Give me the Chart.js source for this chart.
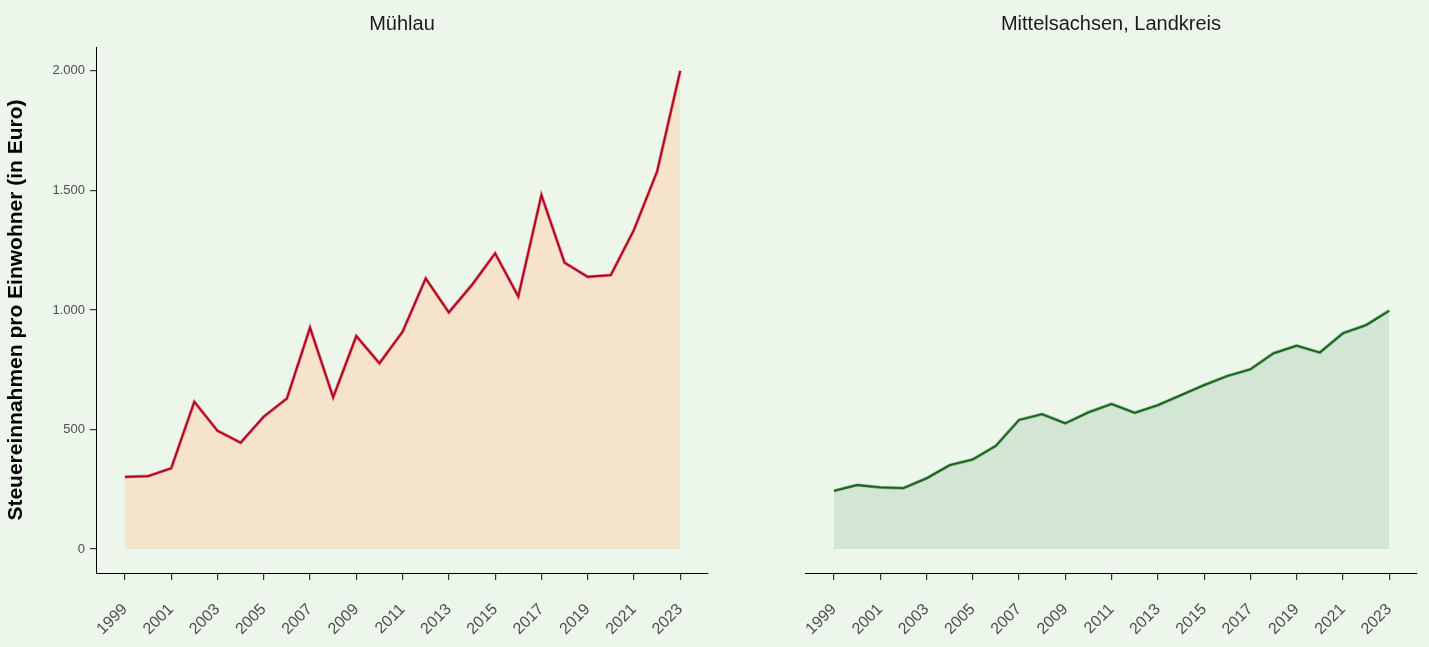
<!DOCTYPE html>
<html>
<head>
<meta charset="utf-8">
<script src="https://cdn.jsdelivr.net/npm/chart.js@4.4.1/dist/chart.umd.min.js"></script>
<style>
  body { margin: 0; background: #ecf6eb; }
  #wrap { position: relative; width: 1429px; height: 647px; }
  .panel { position: absolute; top: 0; height: 647px; }
</style>
</head>
<body>
<div id="wrap">
  <div class="panel" style="left:0;width:715px"><canvas id="left" width="715" height="647"></canvas></div>
  <div class="panel" style="left:715px;width:714px"><canvas id="right" width="714" height="647"></canvas></div>
</div>
<script>
// data
const years = [1999, 2000, 2001, 2002, 2003, 2004, 2005, 2006, 2007, 2008, 2009, 2010, 2011,
               2012, 2013, 2014, 2015, 2016, 2017, 2018, 2019, 2020, 2021, 2022, 2023];
const muehlau = [302, 305, 338, 616, 495, 445, 554, 630, 926, 635, 891, 777, 909,
                 1132, 990, 1105, 1237, 1057, 1481, 1198, 1139, 1146, 1335, 1579, 2000];
const mittelsachsen = [244, 268, 258, 255, 296, 351, 375, 432, 540, 564, 526, 572, 607,
                       570, 602, 644, 686, 724, 752, 819, 851, 822, 903, 937, 997];
const yearTicks = [1999, 2001, 2003, 2005, 2007, 2009, 2011, 2013, 2015, 2017, 2019, 2021, 2023];
const valueTicks = [0, 500, 1000, 1500, 2000];

const FONT = '"Liberation Sans", Arial, sans-serif';
Chart.defaults.font.family = FONT;

function dePoints(vals) {
  return years.map((y, i) => ({ x: y, y: vals[i] }));
}
function fmt(v) {
  return String(v).replace(/\B(?=(\d{3})+(?!\d))/g, '.');
}

const panelTitle = {
  id: 'panelTitle',
  afterDraw(chart, args, opts) {
    const ctx = chart.ctx;
    const a = chart.chartArea;
    ctx.save();
    ctx.font = '20px ' + FONT;
    ctx.fillStyle = '#1a1a1a';
    ctx.textAlign = 'center';
    ctx.textBaseline = 'middle';
    ctx.fillText(opts.text, (a.left + a.right) / 2, 24);
    ctx.restore();
  }
};

function xScale() {
  return {
    type: 'linear',
    min: 1997.75,
    max: 2024.2,
    afterBuildTicks: (s) => { s.ticks = yearTicks.map(v => ({ value: v })); },
    afterFit: (s) => { s.height = 74; },
    grid: { display: true, drawOnChartArea: false, drawTicks: true, tickLength: 7, color: '#333333', lineWidth: 1.2 },
    border: { display: true, color: '#000000', width: 1 },
    ticks: { autoSkip: false, minRotation: 45, maxRotation: 45, color: '#4d4d4d', font: { size: 16 }, padding: 20,
             callback: (v) => String(v) }
  };
}

function makeChart(id, vals, title, lineCol, haloCol, fillCol, showY, pad) {
  const yScale = {
    min: -100,
    max: 2100,
    display: showY,
    afterBuildTicks: (s) => { s.ticks = valueTicks.map(v => ({ value: v })); },
    grid: { display: true, drawOnChartArea: false, drawTicks: true, tickLength: 6, color: '#333333', lineWidth: 1.2 },
    border: { display: true, color: '#000000', width: 1 },
    ticks: { color: '#4d4d4d', font: { size: 13 }, padding: 5, callback: (v) => fmt(v) },
    title: { display: true, text: 'Steuereinnahmen pro Einwohner (in Euro)', color: '#000000',
             font: { size: 21, weight: 'bold' }, padding: { top: 4, bottom: 2 } }
  };
  if (showY) yScale.afterFit = (s) => { s.width = 96; };

  return new Chart(document.getElementById(id), {
    type: 'line',
    data: {
      datasets: [
        { data: dePoints(vals), borderColor: lineCol, borderWidth: 1.8, pointRadius: 0, fill: false, order: 0 },
        { data: dePoints(vals), borderColor: haloCol, borderWidth: 3.2, pointRadius: 0,
          fill: 'origin', backgroundColor: fillCol, order: 1 }
      ]
    },
    options: {
      responsive: false,
      animation: false,
      layout: { padding: pad },
      plugins: { legend: { display: false }, tooltip: { enabled: false }, panelTitle: { text: title } },
      scales: { x: xScale(), y: yScale }
    },
    plugins: [panelTitle]
  });
}

makeChart('left', muehlau, 'Mühlau', '#b0001f', 'rgba(214,70,95,0.7)', '#f5e3cb', true,
          { left: 0, right: 7, top: 47, bottom: 0 });
makeChart('right', mittelsachsen, 'Mittelsachsen, Landkreis', '#17631b', 'rgba(60,130,60,0.6)', '#d3e5d3', false,
          { left: 90, right: 12, top: 47, bottom: 0 });
</script>
</body>
</html>
